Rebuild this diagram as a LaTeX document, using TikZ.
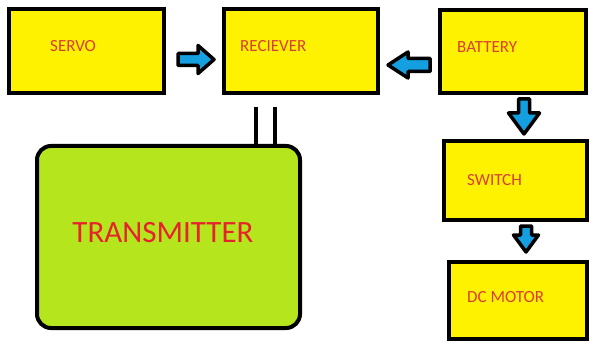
\documentclass[tikz,border=0pt]{standalone}
\usepackage{fontspec}
\setmainfont{Carlito}
\definecolor{boxyellow}{HTML}{FFF200}
\definecolor{txgreen}{HTML}{B5E61D}
\definecolor{arrowblue}{HTML}{14A0E0}
\definecolor{lblred}{RGB}{218,62,50}
\definecolor{bigred}{RGB}{230,35,45}
\tikzset{
  box/.style={draw=black, fill=boxyellow, line width=4pt, rectangle, inner sep=0pt},
  lbl/.style={text=lblred, font=\fontsize{17}{20}\selectfont, inner sep=0pt, anchor=west},
  barrow/.style={draw=black, fill=arrowblue, line width=3.5pt, line join=round},
  antenna/.style={draw=black, line width=3.5pt}
}
\newcommand\blockarrow[6]{%
  \begin{scope}[shift={#1},rotate=#2]
    \draw[barrow] (0,-#4) -- ({#3-#6},-#4) -- ({#3-#6},-#5) -- (#3,0) -- ({#3-#6},#5) -- ({#3-#6},#4) -- (0,#4) -- cycle;
  \end{scope}}
\begin{document}
\begin{tikzpicture}[x=1pt,y=-1pt]
\useasboundingbox[fill=white] (0,0) rectangle (589,342);
% boxes
\node[box, minimum width=155pt, minimum height=84pt] (servo) at (86.5,51) {};
\node[box, minimum width=154pt, minimum height=84pt] (recv) at (301,51) {};
\node[box, minimum width=146pt, minimum height=83pt] (batt) at (513,51.5) {};
\node[box, minimum width=143pt, minimum height=79pt] (switch) at (515.5,180.5) {};
\node[box, minimum width=138pt, minimum height=77pt] (motor) at (518,300.5) {};
\node[draw=black, fill=txgreen, line width=4pt, rounded corners=14pt, minimum width=263pt, minimum height=182pt, inner sep=0pt] (tx) at (168.5,237) {};
% labels
\node[lbl] (servot) at (50,46) {SERVO};
\node[lbl] (recvt) at (240,46) {RECIEVER};
\node[lbl] (battt) at (457,47) {BATTERY};
\node[lbl] (switcht) at (467,180) {SWITCH};
\node[lbl] (motort) at (467,297) {DC MOTOR};
\node[text=bigred, font=\fontsize{31}{36}\selectfont, inner sep=0pt] (txt) at (163,233) {TRANSMITTER};
% antennas
\coordinate (ant1) at (256,107);
\coordinate (ant2) at (275,107);
\draw[antenna] (ant1) -- (ant1 |- tx.north);
\draw[antenna] (ant2) -- (ant2 |- tx.north);
% block arrows
\blockarrow{(178,59.5)}{0}{36}{6}{14}{16}
\blockarrow{(430,65)}{180}{42}{6.5}{13}{20}
\blockarrow{(524,99)}{-90}{35}{5.5}{15.5}{21}
\blockarrow{(526,226)}{-90}{26}{5.5}{12.5}{17}
\end{tikzpicture}
\end{document}
